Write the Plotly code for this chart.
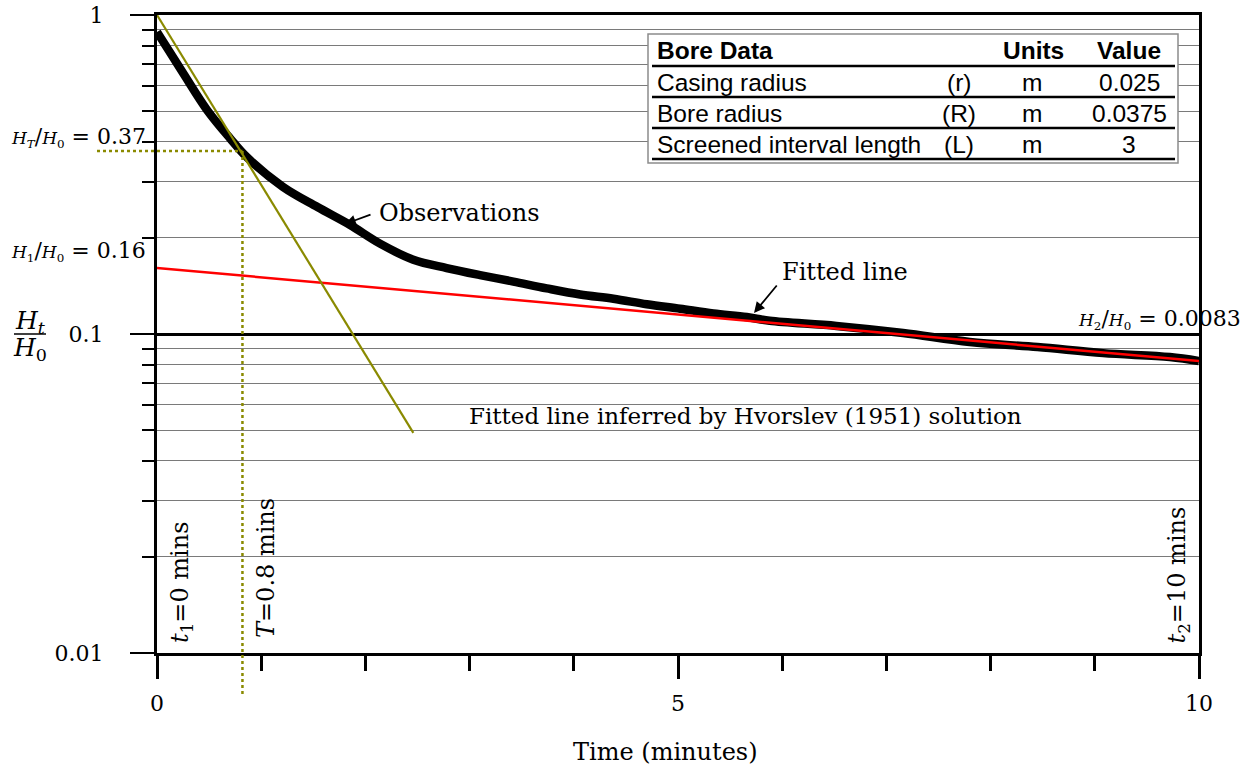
import math
import plotly.graph_objects as go

# ---------------- data ----------------
t_obs = [0.0, 0.25, 0.48, 0.70, 0.86, 1.21, 1.54, 1.85, 2.14, 2.46, 2.78, 3.10, 3.42, 3.74,
         4.06, 4.38, 4.70, 5.02, 5.34, 5.66, 5.88, 6.52, 7.16, 7.80, 8.45, 9.08, 9.72, 10.0]
h_obs = [0.885, 0.658, 0.504, 0.411, 0.359, 0.289, 0.250, 0.220, 0.192, 0.171, 0.161, 0.153, 0.146, 0.139,
         0.133, 0.129, 0.124, 0.120, 0.116, 0.113, 0.110, 0.106, 0.1007, 0.0944, 0.091, 0.0871, 0.0847, 0.0823]

t_fit = [0.0, 10.0]
h_fit = [0.161, 0.0823]

t_hvorslev = [0.0, 2.46]
h_hvorslev = [1.0, 0.049]

T_mark = 0.82      # time lag position (T = 0.8 mins)
HT_mark = 0.375    # H_T/H_0 = 0.37

y_major = [0.01, 0.1, 1]
y_major_text = ["0.01", "0.1", "1"]
y_minor = [k * 10.0 ** e for e in (-2, -1) for k in range(2, 10)]
x_major = [0, 5, 10]
x_major_text = ["0", "5", "10"]
x_minor = [1, 2, 3, 4, 6, 7, 8, 9]

table_header = ["Bore Data", "Units", "Value"]
table_names = ["Casing radius", "Bore radius", "Screened interval length"]
table_symbols = ["(r)", "(R)", "(L)"]
table_units = ["m", "m", "m"]
table_values = ["0.025", "0.0375", "3"]

# ---------------- layout helpers ----------------
W, H = 1255, 771
L, R, T, B = 157, 1199, 15, 653
SERIF = "DejaVu Serif"
SANS = "Liberation Sans, Arial"
OLIVE = "#8a8a00"


def px(x):
    return (x - L) / (R - L)


def py(y):
    return (B - y) / (B - T)


def xd(t):
    return t / 10.0


def yd(h):
    return (math.log10(h) + 2) / 2


fig = go.Figure()
fig.add_trace(go.Scatter(x=t_obs, y=h_obs, mode="lines", line=dict(color="black", width=8.5, shape="spline"),
                         showlegend=False))
fig.add_trace(go.Scatter(x=t_fit, y=h_fit, mode="lines", line=dict(color="#ff0000", width=2.5),
                         showlegend=False))
fig.add_trace(go.Scatter(x=t_hvorslev, y=h_hvorslev, mode="lines", line=dict(color=OLIVE, width=2.2),
                         showlegend=False))

shapes = []
# dotted guide lines (extend outside the plot area)
shapes.append(dict(type="line", xref="paper", yref="paper", x0=px(97), x1=xd(T_mark), y0=yd(HT_mark),
                   y1=yd(HT_mark), line=dict(color=OLIVE, width=2.5, dash="dot")))
shapes.append(dict(type="line", xref="paper", yref="paper", x0=xd(T_mark), x1=xd(T_mark), y0=yd(HT_mark),
                   y1=py(697), line=dict(color=OLIVE, width=2.5, dash="dot")))
# fraction bar of y label
shapes.append(dict(type="line", xref="paper", yref="paper", x0=px(14), x1=px(46), y0=py(334), y1=py(334),
                   line=dict(color="black", width=1.5)))
# table
shapes.append(dict(type="rect", xref="paper", yref="paper", x0=px(648), x1=px(1178), y0=py(34), y1=py(163),
                   fillcolor="white", line=dict(color="#8c8c8c", width=1.5), layer="above"))
for yy in (66, 97, 128, 159):
    shapes.append(dict(type="line", xref="paper", yref="paper", x0=px(652), x1=px(1175), y0=py(yy), y1=py(yy),
                       line=dict(color="black", width=2.5), layer="above"))

ann = []


def text(x, y, s, size=24, xanchor="center", yanchor="middle", font=SERIF, angle=0):
    ann.append(dict(x=px(x), y=py(y), xref="paper", yref="paper", text=s, showarrow=False,
                    xanchor=xanchor, yanchor=yanchor, textangle=angle,
                    font=dict(family=font, size=size, color="black")))


def arrow(x0, y0, x1, y1):
    ann.append(dict(x=px(x1), y=py(y1), xref="paper", yref="paper", ax=x0 - x1, ay=y0 - y1,
                    axref="pixel", ayref="pixel", text="", showarrow=True, arrowhead=2,
                    arrowsize=1.2, arrowwidth=1.8, arrowcolor="black"))


# table texts
TS = 24.5
text(655, 50, "<b>" + table_header[0] + "</b>", TS, "left", font=SANS)
text(1033, 50, "<b>" + table_header[1] + "</b>", TS, font=SANS)
text(1129, 50, "<b>" + table_header[2] + "</b>", TS, font=SANS)
for i, yy in enumerate((82, 113, 144)):
    text(655, yy, table_names[i], TS, "left", font=SANS)
    text(959, yy, table_symbols[i], TS, font=SANS)
    text(1032, yy, table_units[i], TS, font=SANS)
    text(1129, yy, table_values[i], TS, font=SANS)

small = '<span style="font-size:17px">'
close = "</span>"
text(148, 137, small + "<i>H<sub>T</sub></i>" + close + "/" + small + "<i>H</i><sub>0</sub>" + close + " = 0.37",
     22, "right")
text(148, 251, small + "<i>H</i><sub>1</sub>" + close + "/" + small + "<i>H</i><sub>0</sub>" + close + " = 0.16",
     22, "right")
text(1243, 319, small + "<i>H</i><sub>2</sub>" + close + "/" + small + "<i>H</i><sub>0</sub>" + close +
     " = 0.0083", 22, "right")

# y label fraction
text(30, 322, "<i>H<sub>t</sub></i>", 25)
text(30, 349, "<i>H</i><sub>0</sub>", 25)

text(377, 213, "Observations", 24, "left")
arrow(372, 214, 345, 224)
text(780, 272, "Fitted line", 24, "left")
arrow(778, 284, 754, 313)
text(467, 416, "Fitted line inferred by Hvorslev (1951) solution", 23, "left")

text(181, 645, "<i>t</i><sub>1</sub>=0 mins", 24, "center", "bottom", angle=-90)
text(266, 640, "<i>T</i>=0.8 mins", 24, "center", "bottom", angle=-90)
text(1178, 646, "<i>t</i><sub>2</sub>=10 mins", 24, "center", "bottom", angle=-90)

text(665, 752, "Time (minutes)", 24)

fig.update_layout(
    width=W, height=H, autosize=False,
    margin=dict(l=L, r=W - R, t=T, b=H - B, pad=0, autoexpand=False),
    paper_bgcolor="white", plot_bgcolor="white",
    font=dict(family=SERIF, size=21, color="black"),
    shapes=shapes, annotations=ann, showlegend=False,
    xaxis=dict(range=[0, 10], tickmode="array", tickvals=x_major, ticktext=x_major_text,
               ticks="outside", ticklen=23, tickwidth=2.5, tickcolor="black", automargin=False,
               showgrid=False, zeroline=False, showline=True, linecolor="black", linewidth=3,
               mirror=True, ticklabelstandoff=6,
               tickfont=dict(family=SERIF, size=22, color="black"),
               minor=dict(tickmode="array", tickvals=x_minor, ticks="outside", ticklen=15,
                          tickwidth=2.5, tickcolor="black", showgrid=False)),
    yaxis=dict(type="log", range=[-2, 0], tickmode="array", tickvals=y_major, ticktext=y_major_text,
               ticks="outside", ticklen=24, tickwidth=2, tickcolor="black", automargin=False,
               showgrid=True, gridcolor="black", gridwidth=2.5, zeroline=False,
               showline=True, linecolor="black", linewidth=3, mirror=True,
               ticklabelstandoff=22,
               tickfont=dict(family=SERIF, size=22, color="black"),
               minor=dict(tickmode="array", tickvals=y_minor, ticks="outside", ticklen=12,
                          tickwidth=1.5, tickcolor="black", showgrid=True,
                          gridcolor="#7a7a7a", gridwidth=1)),
)

fig.write_html("out.html", config={"displayModeBar": False},
               post_script="document.body.style.margin='0px';")
